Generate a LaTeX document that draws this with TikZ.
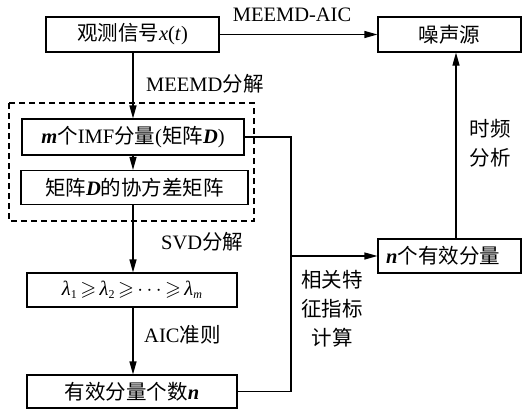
\documentclass[tikz,border=0pt]{standalone}
\usepackage{amssymb}
\usepackage{fontspec}
\setmainfont{Liberation Serif}
\newfontfamily\cjk{Noto Sans CJK SC}
\usetikzlibrary{arrows.meta}
\newcommand{\zh}[1]{{\cjk #1}}
\newcommand{\bi}[1]{\textbf{\textit{#1}}}
\newcommand{\lam}[1]{\textit{λ}\raisebox{-3pt}{\fontsize{12}{12}\selectfont #1}}
\newcommand{\gsl}{\ensuremath{\,\geqslant\,}}
\begin{document}
\begin{tikzpicture}[x=1pt,y=-1pt,
  every node/.style={font=\fontsize{20.5}{29}\selectfont},
  box/.style={draw,line width=1.2pt,minimum height=35pt,inner sep=0pt},
  arr/.style={line width=1.2pt,-{Triangle[length=13pt,width=7pt]}},
  ln/.style={line width=1.2pt},
  lbl/.style={inner sep=0pt}]
\useasboundingbox (0,0) rectangle (523,413);
% dashed group
\draw[line width=1.2pt,dash pattern=on 6pt off 4pt] (9,103) rectangle (254,221);
% nodes
\node[box,minimum width=173pt] (obs) at (132.5,34.5) {\zh{观测信号}\textit{x}(\textit{t})};
\node[box,minimum width=143pt] (noise) at (449.5,34.5) {\zh{噪声源}};
\node[box,minimum width=222pt,minimum height=36pt] (imf) at (133,137) {\bi{m}\zh{个}IMF\zh{分量}(\zh{矩阵}\bi{D})};
\node[box,minimum width=227pt,minimum height=34pt] (cov) at (134.5,187.5) {\zh{矩阵}\bi{D}\zh{的协方差矩阵}};
\node[box,minimum width=210pt,minimum height=34pt] (lam) at (132,290) {\lam{1}\gsl\lam{2}\gsl$\cdots$\gsl\lam{\textit{m}}};
\node[box,minimum width=210pt,minimum height=33pt] (neff) at (132,391.5) {\zh{有效分量个数}\bi{n}};
\node[box,minimum width=143pt,minimum height=34pt] (ncomp) at (449.5,256) {};
\node[lbl,anchor=west] (ncompt) at (386,256) {\bi{n}\zh{个有效分量}};
% junction coordinates
\coordinate (j1) at (291,137);
\coordinate (jm) at (291,256);
\coordinate (j2) at (291,391.5);
\coordinate (up) at (456,273);
% connectors
\draw[arr] (obs.east) -- (noise.west);
\draw[arr] (obs.south -| 133,0) -- (imf.north -| 133,0);
\draw[arr] (imf.south -| 133,0) -- (cov.north -| 133,0);
\draw[arr] (cov.south -| 133,0) -- (lam.north -| 133,0);
\draw[arr] (lam.south -| 133,0) -- (neff.north -| 133,0);
\draw[ln] (imf.east) -- (j1) -- (j2) -- (neff.east);
\draw[arr] (jm) -- (ncomp.west);
\draw[arr] (ncomp.north -| up) -- (noise.south -| up);
% labels
\node[lbl] (l1) at (292,15) {MEEMD-AIC};
\node[lbl,anchor=west] (l2) at (146,84) {MEEMD\zh{分解}};
\node[lbl,anchor=west] (l3) at (161,242) {SVD\zh{分解}};
\node[lbl,anchor=west] (l4) at (144,335) {AIC\zh{准则}};
\node[lbl,align=center] (l5) at (490,143) {\zh{时频}\\\zh{分析}};
\node[lbl,align=center] (l6) at (332,309) {\zh{相关特}\\\zh{征指标}\\\zh{计算}};
\end{tikzpicture}
\end{document}
